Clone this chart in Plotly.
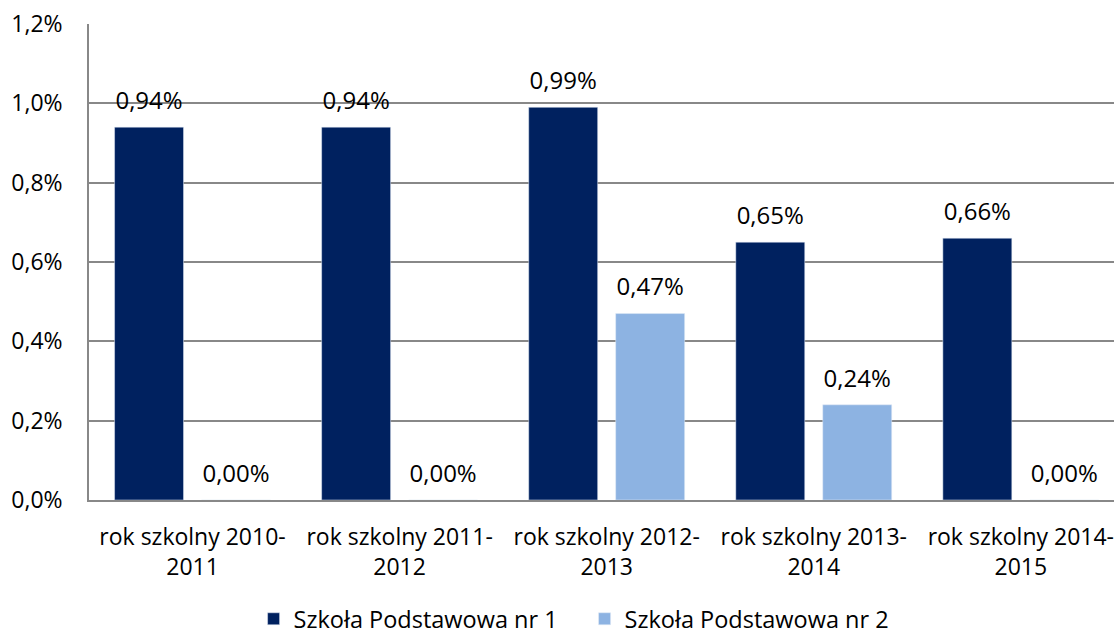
import plotly.graph_objects as go

categories = ["rok szkolny 2010-<br>2011", "rok szkolny 2011-<br>2012", "rok szkolny 2012-<br>2013",
              "rok szkolny 2013-<br>2014", "rok szkolny 2014-<br>2015"]
sp1 = [0.94, 0.94, 0.99, 0.65, 0.66]
sp2 = [0.00, 0.00, 0.47, 0.24, 0.00]
names = ["Szkoła Podstawowa nr 1", "Szkoła Podstawowa nr 2"]
colors = ["#00215F", "#8DB3E2"]
y_ticks = [0, 0.2, 0.4, 0.6, 0.8, 1.0, 1.2]
y_tick_labels = ["0,0%", "0,2%", "0,4%", "0,6%", "0,8%", "1,0%", "1,2%"]

FONT = "Open Sans"
FS = 23

def fmt(v):
    return f"{v:.2f}".replace(".", ",") + "%"

fig = go.Figure()
for name, vals, col, og in [(names[0], sp1, colors[0], "a"), (names[1], sp2, colors[1], "b")]:
    fig.add_trace(go.Bar(x=categories, y=vals, name=name, marker_color=col,
                         offsetgroup=og, hoverinfo="skip"))
for vals, og in [(sp1, "a"), (sp2, "b")]:
    fig.add_trace(go.Scatter(x=categories, y=vals, mode="markers+text", offsetgroup=og,
                             text=[fmt(v) for v in vals], textposition="top center",
                             marker=dict(size=18, opacity=0), showlegend=False,
                             textfont=dict(family=FONT, size=24, color="#000"),
                             hoverinfo="skip", cliponaxis=False))

fig.update_layout(
    width=1114, height=634,
    margin=dict(l=89, r=0, t=24, b=134, autoexpand=False),
    paper_bgcolor="white", plot_bgcolor="white",
    barmode="group", bargap=0.16, bargroupgap=0.207,
    scattermode="group", scattergap=0.16,
    font=dict(family=FONT, size=FS, color="#000"),
    legend=dict(orientation="h", x=0.4835, xanchor="center", y=-0.25, yanchor="middle",
                font=dict(family=FONT, size=23.5), tracegroupgap=0,
                entrywidth=286, entrywidthmode="pixels"),
    showlegend=True,
)
fig.update_xaxes(range=[-0.5, 4.45], showline=True, linecolor="#888", linewidth=1.5,
                 showgrid=False, ticks="", ticklabelstandoff=16, tickfont=dict(size=FS),
                 automargin=False)
fig.update_yaxes(range=[0, 1.2], tickvals=y_ticks, ticktext=y_tick_labels,
                 showgrid=True, gridcolor="#888", gridwidth=1.5,
                 showline=True, linecolor="#888", linewidth=1.5,
                 zeroline=False, ticks="", ticklabelstandoff=20, tickfont=dict(size=FS),
                 automargin=False)

fig.write_html("out.html", post_script="document.body.style.margin='0';",
               config={"displayModeBar": False})
